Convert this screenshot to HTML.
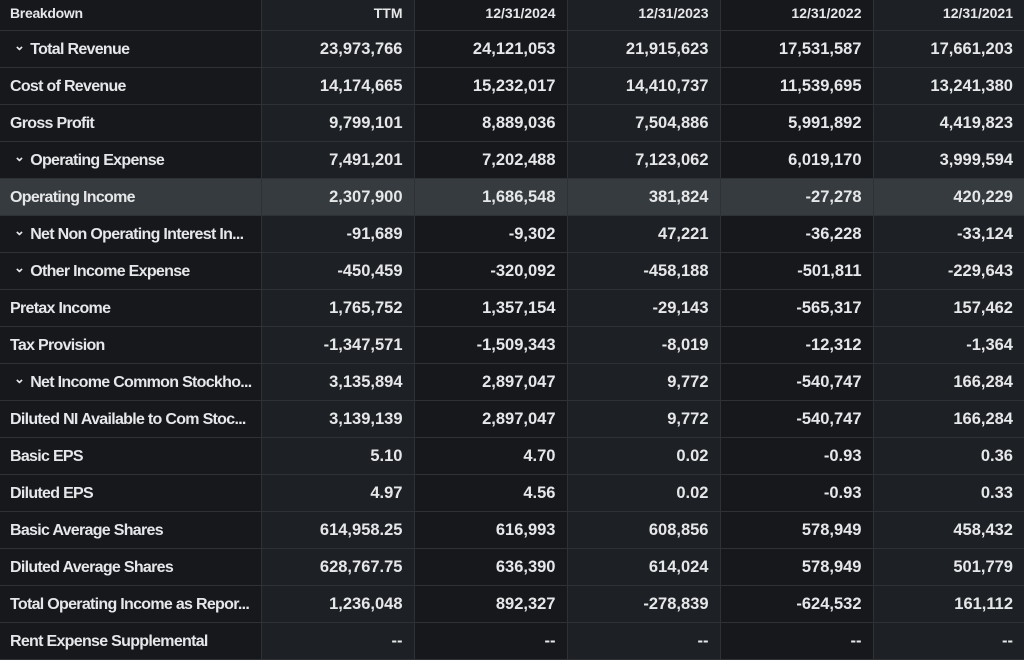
<!DOCTYPE html>
<html><head><meta charset="utf-8"><style>
html,body{margin:0;padding:0;background:#16181c;}
body{width:1024px;height:654px;overflow:hidden;font-family:"Liberation Sans",sans-serif;color:#e6e7e8;}
table{border-collapse:collapse;table-layout:fixed;width:1024px;}
td,th{height:37px;border-bottom:1px solid #2e3236;border-right:1px solid #2e3236;padding:2px 11px 0 10px;font-size:16.5px;font-weight:bold;text-align:right;white-space:nowrap;overflow:hidden;box-sizing:border-box;}
th{height:30px;font-size:14px;padding-top:0;padding-bottom:3px;}
td:first-child{font-size:16px;letter-spacing:-0.7px;}
th:first-child{letter-spacing:-0.3px;}
td:first-child,th:first-child{text-align:left;}
tr>*:nth-child(odd){background:#16181c;}
tr>*:nth-child(even){background:#1d2025;}
tr.hl>*{background:#363b3f !important;}
.c{padding-left:14px;}
.c:before{content:"⌄";display:inline-block;font-size:13px;margin-right:6px;position:relative;top:-4px;}
td:last-child,th:last-child{border-right:none;}
</style></head><body>
<table>
<colgroup><col style="width:261px"><col style="width:153px"><col style="width:153px"><col style="width:153px"><col style="width:153px"><col style="width:151px"></colgroup>
<tr><th>Breakdown</th><th>TTM</th><th>12/31/2024</th><th>12/31/2023</th><th>12/31/2022</th><th>12/31/2021</th></tr>
<tr><td class="c">Total Revenue</td><td>23,973,766</td><td>24,121,053</td><td>21,915,623</td><td>17,531,587</td><td>17,661,203</td></tr>
<tr><td>Cost of Revenue</td><td>14,174,665</td><td>15,232,017</td><td>14,410,737</td><td>11,539,695</td><td>13,241,380</td></tr>
<tr><td>Gross Profit</td><td>9,799,101</td><td>8,889,036</td><td>7,504,886</td><td>5,991,892</td><td>4,419,823</td></tr>
<tr><td class="c">Operating Expense</td><td>7,491,201</td><td>7,202,488</td><td>7,123,062</td><td>6,019,170</td><td>3,999,594</td></tr>
<tr class="hl"><td>Operating Income</td><td>2,307,900</td><td>1,686,548</td><td>381,824</td><td>-27,278</td><td>420,229</td></tr>
<tr><td class="c">Net Non Operating Interest In...</td><td>-91,689</td><td>-9,302</td><td>47,221</td><td>-36,228</td><td>-33,124</td></tr>
<tr><td class="c">Other Income Expense</td><td>-450,459</td><td>-320,092</td><td>-458,188</td><td>-501,811</td><td>-229,643</td></tr>
<tr><td>Pretax Income</td><td>1,765,752</td><td>1,357,154</td><td>-29,143</td><td>-565,317</td><td>157,462</td></tr>
<tr><td>Tax Provision</td><td>-1,347,571</td><td>-1,509,343</td><td>-8,019</td><td>-12,312</td><td>-1,364</td></tr>
<tr><td class="c">Net Income Common Stockho...</td><td>3,135,894</td><td>2,897,047</td><td>9,772</td><td>-540,747</td><td>166,284</td></tr>
<tr><td>Diluted NI Available to Com Stoc...</td><td>3,139,139</td><td>2,897,047</td><td>9,772</td><td>-540,747</td><td>166,284</td></tr>
<tr><td>Basic EPS</td><td>5.10</td><td>4.70</td><td>0.02</td><td>-0.93</td><td>0.36</td></tr>
<tr><td>Diluted EPS</td><td>4.97</td><td>4.56</td><td>0.02</td><td>-0.93</td><td>0.33</td></tr>
<tr><td>Basic Average Shares</td><td>614,958.25</td><td>616,993</td><td>608,856</td><td>578,949</td><td>458,432</td></tr>
<tr><td>Diluted Average Shares</td><td>628,767.75</td><td>636,390</td><td>614,024</td><td>578,949</td><td>501,779</td></tr>
<tr><td>Total Operating Income as Repor...</td><td>1,236,048</td><td>892,327</td><td>-278,839</td><td>-624,532</td><td>161,112</td></tr>
<tr><td>Rent Expense Supplemental</td><td>--</td><td>--</td><td>--</td><td>--</td><td>--</td></tr>
</table>
</body></html>
